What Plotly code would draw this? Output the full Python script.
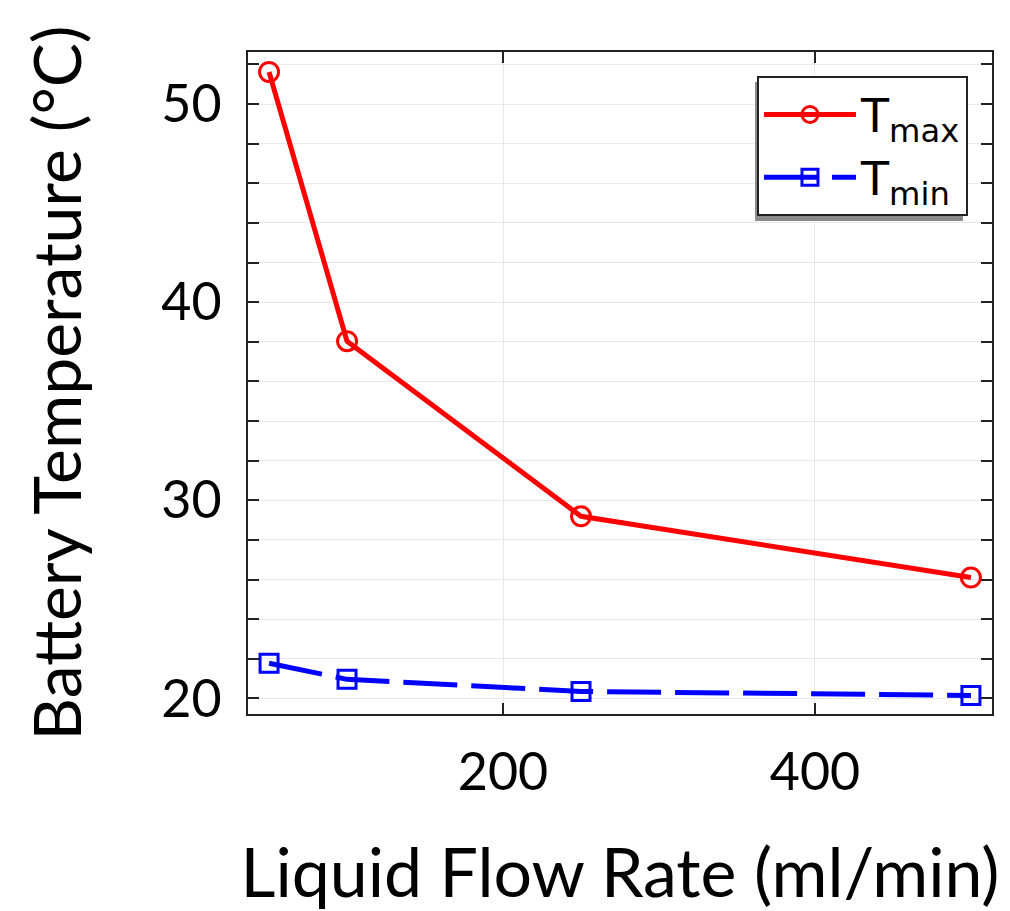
import plotly.graph_objects as go

flow_rate = [50, 100, 250, 500]
t_max = [51.62, 38.03, 29.19, 26.1]
t_min = [21.77, 20.96, 20.35, 20.15]
x_ticks = [200, 400]
y_ticks = [20, 30, 40, 50]

fig = go.Figure()
fig.add_trace(go.Scatter(
    x=flow_rate, y=t_max, mode="lines+markers", name="T<sub>max</sub>",
    line=dict(color="#ff0000", width=5),
    marker=dict(symbol="circle-open", size=19, color="#ff0000", line=dict(width=3, color="#ff0000")),
))
fig.add_trace(go.Scatter(
    x=flow_rate, y=t_min, mode="lines+markers", name="T<sub>min</sub>",
    line=dict(color="#0000ff", width=5, dash="54px,14px"),
    marker=dict(symbol="square-open", size=18, color="#0000ff", line=dict(width=3, color="#0000ff")),
))

axis_common = dict(
    showline=True, linecolor="#222222", linewidth=2, mirror="allticks",
    ticks="inside", ticklen=11, tickwidth=2, tickcolor="#222222",
    gridcolor="#e8e8e8", gridwidth=1, zeroline=False, automargin=False,
    tickfont=dict(family="Lato", size=52, color="black"),
)

fig.update_xaxes(
    range=[36.5, 513.5], tickvals=x_ticks, ticklabelstandoff=12,
    title=dict(text="Liquid Flow Rate (ml/min)", font=dict(family="Lato", size=68, color="black"), standoff=52),
    **axis_common,
)
fig.update_yaxes(
    range=[19.21, 52.63], tickvals=y_ticks, ticklabelstandoff=14,
    minor=dict(dtick=2, tick0=0, ticks="inside", ticklen=11, tickwidth=2, tickcolor="#222222",
               showgrid=True, gridcolor="#e8e8e8", gridwidth=1),
    title=dict(text="Battery Temperature (°C)", font=dict(family="Lato", size=66, color="black"), standoff=58),
    **axis_common,
)

fig.add_shape(type="rect", xref="paper", yref="paper",
              x0=0.6815, x1=0.961, y0=0.7447, y1=0.9547,
              fillcolor="#8a8a8a", line=dict(width=0), layer="above")

fig.update_layout(
    width=1002, height=903,
    margin=dict(l=240, r=18, t=44, b=197),
    paper_bgcolor="white", plot_bgcolor="white",
    legend=dict(x=0.9677, y=0.9637, xanchor="right", yanchor="top",
                bgcolor="white", bordercolor="#222222", borderwidth=2,
                font=dict(family="DejaVu Sans", size=46, color="black"),
                itemwidth=92, tracegroupgap=0),
)

fig.write_html("out.html")
